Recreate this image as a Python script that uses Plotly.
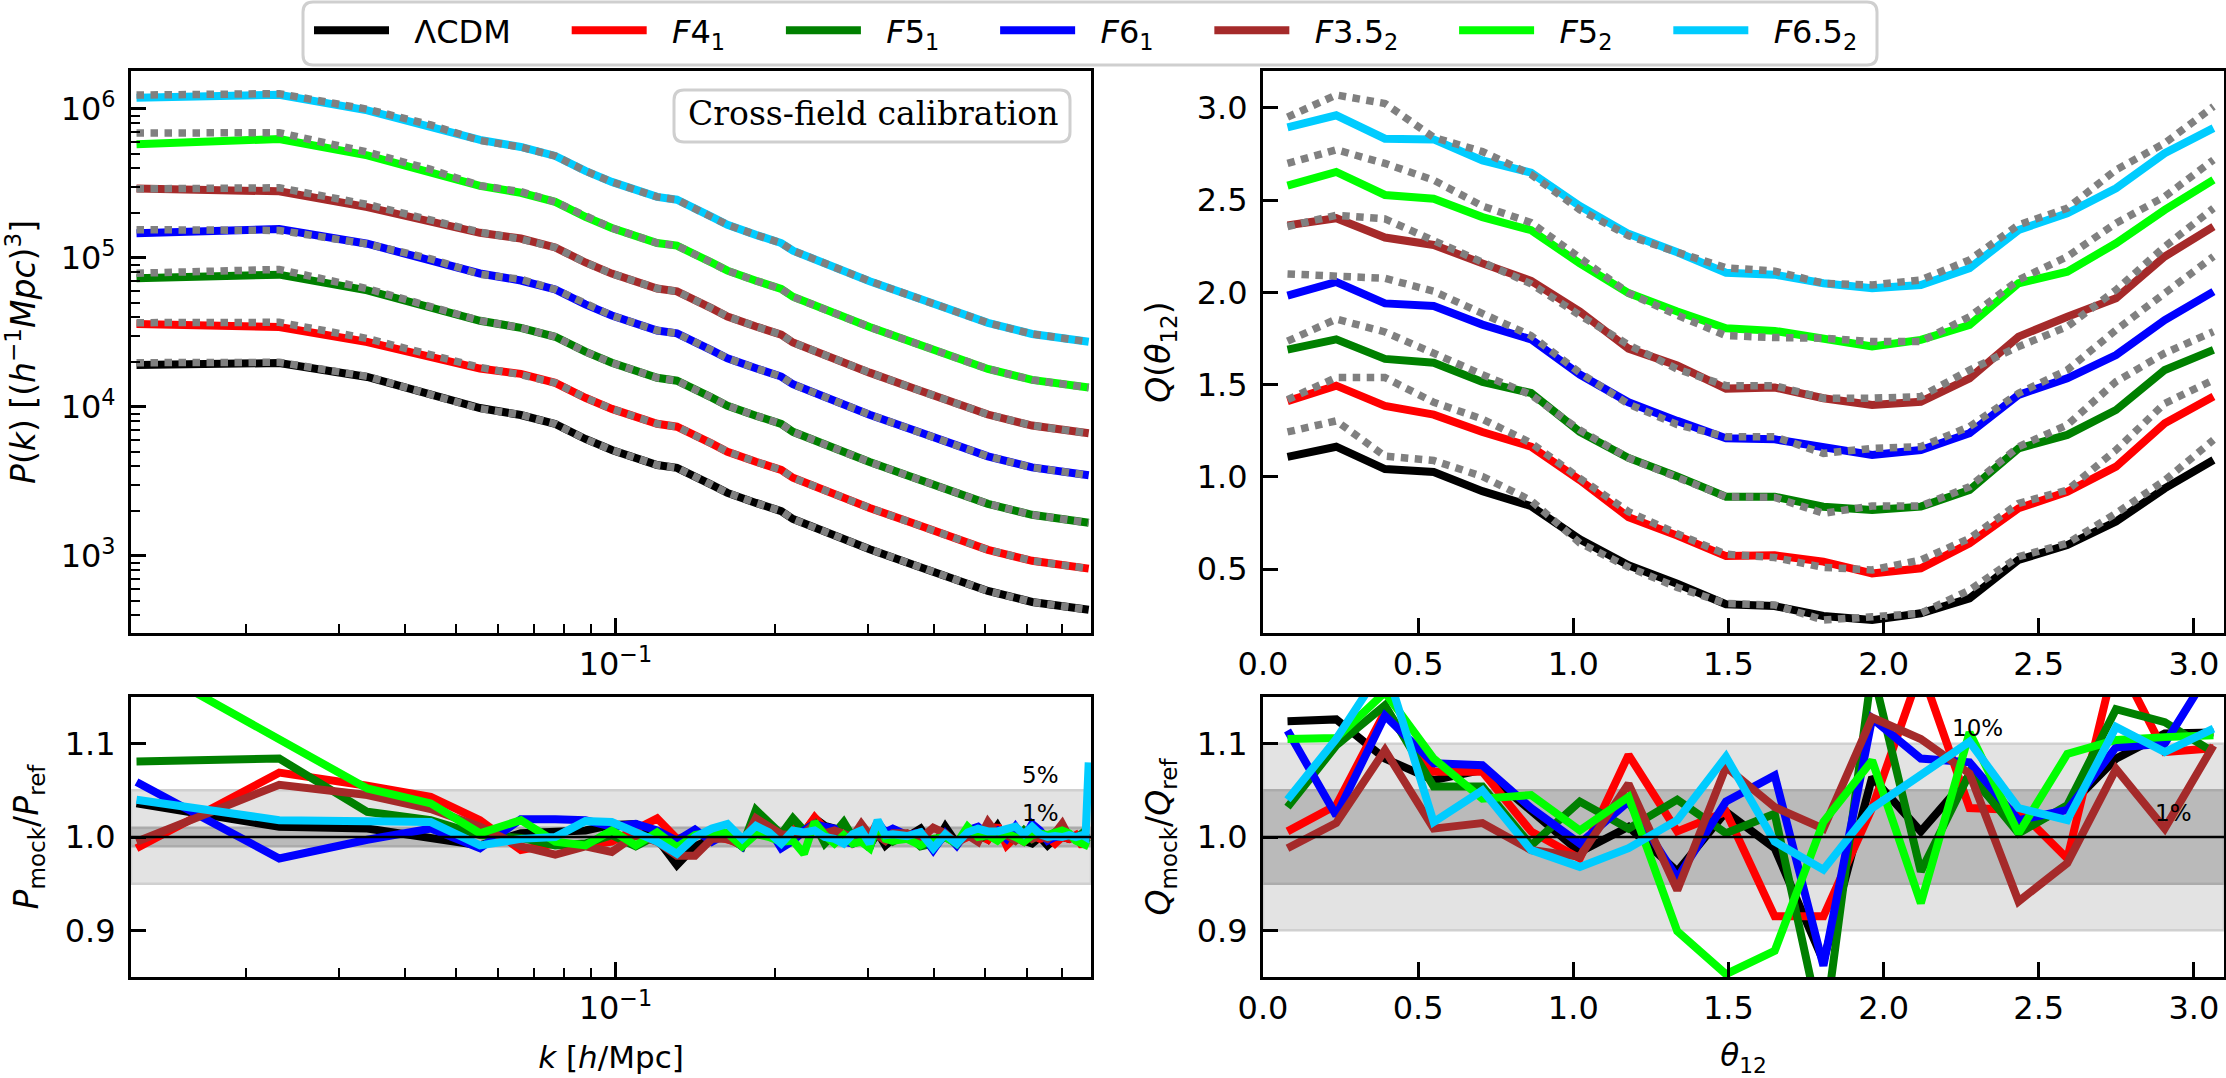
# Power spectrum and bispectrum panels with mock/ref ratios
import plotly.graph_objects as go
from plotly.subplots import make_subplots

W, H = 2226, 1078
FONT = "DejaVu Sans"

# no-break spaces give the legend the text offset and column widths of the original
PRE = "\u00a0" * 2
GAP = "\u00a0" * 5
names = [PRE + "ΛCDM" + GAP, PRE + "<i>F</i>4<sub>1</sub>" + GAP, PRE + "<i>F</i>5<sub>1</sub>" + GAP,
         PRE + "<i>F</i>6<sub>1</sub>" + GAP, PRE + "<i>F</i>3.5<sub>2</sub>" + GAP,
         PRE + "<i>F</i>5<sub>2</sub>" + GAP, PRE + "<i>F</i>6.5<sub>2</sub>"]
colors = ["#000000", "#ff0000", "#008000", "#0000ff", "#a52a2a", "#00ff00", "#00ccff"]

# P(k), top left
k_p = [0.0124, 0.0231, 0.0339, 0.0447, 0.0554, 0.0662, 0.0769, 0.0877, 0.0984, 0.1199, 0.1307, 0.1522,
       0.1629, 0.1844, 0.2059, 0.2167, 0.2489, 0.3027, 0.3672, 0.4317, 0.5069, 0.6144, 0.7004, 0.7864]
p_lcdm = [19140, 19720, 15890, 12220, 9840, 8830, 7690, 6100, 5140, 4080, 3900, 3000,
          2650, 2270, 2000, 1770, 1450, 1110, 871, 711, 582, 491, 461, 435]
p_f41 = [36080, 34410, 27300, 21750, 18110, 16690, 14530, 11530, 9710, 7710, 7370, 5670,
         5010, 4290, 3780, 3350, 2740, 2100, 1650, 1340, 1100, 928, 871, 822]
p_f51 = [73100, 77300, 60700, 47000, 37900, 34000, 29600, 23500, 19800, 15700, 15000, 11550,
         10200, 8740, 7700, 6810, 5580, 4270, 3350, 2740, 2240, 1890, 1770, 1670]
p_f61 = [146400, 156400, 124700, 97800, 78700, 70600, 61500, 48800, 41100, 32600, 31200, 24000,
         21200, 18200, 16000, 14200, 11600, 8880, 6970, 5690, 4660, 3930, 3690, 3480]
p_f352 = [292800, 280000, 219300, 176000, 147600, 135100, 117700, 93300, 78600, 62400, 59700, 45900,
          40500, 34700, 30600, 27100, 22200, 17000, 13300, 10900, 8900, 7510, 7050, 6660]
p_f52 = [580000, 629000, 489000, 379000, 305000, 274000, 238000, 189000, 159000, 126000, 121000, 93000,
         82200, 70400, 62000, 54900, 45000, 34400, 27000, 22000, 18000, 15200, 14300, 13500]
p_f652 = [1192000, 1246000, 980000, 770000, 620000, 556000, 484000, 384000, 324000, 257000, 246000, 189000,
          167000, 143000, 126000, 112000, 91400, 69900, 54900, 44800, 36700, 30900, 29000, 27400]

# dotted reference curves only differ from the lines at low k
pref_lcdm = [19830, 19940, 16040, 12210, 9750, 8860] + p_lcdm[6:]
pref_f41 = [36800, 37000, 28800, 22690, 18440, 16460] + p_f41[6:]
pref_f51 = [79000, 83800, 62300, 47900, 38000, 34000] + p_f51[6:]
pref_f61 = [155000, 153000, 124300, 98700, 77800, 71900] + p_f61[6:]
pref_f352 = [291000, 296000, 229000, 181000, 149000, 133800] + p_f352[6:]
pref_f52 = [690000, 693000, 514000, 393000, 306000, 279000] + p_f52[6:]
pref_f652 = [1240000, 1268000, 997000, 782000, 615000, 555000] + p_f652[6:]

# P ratio, bottom left
k_r = [0.0124, 0.0231, 0.0339, 0.0447, 0.0554, 0.0662, 0.0769, 0.0877, 0.0984, 0.1092, 0.1199, 0.1307,
       0.1414, 0.1522, 0.1629, 0.1737, 0.1844, 0.1952, 0.2059, 0.2167, 0.2274, 0.2382, 0.2489, 0.2597,
       0.2704, 0.2812, 0.2919, 0.3027, 0.3134, 0.3242, 0.3349, 0.3564, 0.3779, 0.3994, 0.4209, 0.4424,
       0.4639, 0.4854, 0.5069, 0.5284, 0.5499, 0.5714, 0.5929, 0.6144, 0.6359, 0.6574, 0.6789, 0.7004,
       0.7219, 0.7434, 0.7649, 0.7757, 0.7864]
pr_lcdm = [1.036, 1.011, 1.009, 0.999, 0.991, 1.004, 1.006, 1.007, 1.013,
           1.014, 0.998, 0.970, 0.990, 0.998, 1.002, 0.990, 1.014, 1.007, 0.993, 1.000, 1.005, 1.020, 1.012,
           1.009, 0.998, 0.993, 0.996, 0.991, 1.005, 0.991, 0.998,
           1.000, 1.009, 0.989, 1.011, 0.993, 1.004, 1.007, 0.998, 1.012, 0.995, 1.002, 0.996, 0.993, 1.000,
           0.991, 0.998, 1.000, 0.998, 1.000, 0.996, 0.998, 0.998]
pr_f41 = [0.988, 1.069, 1.055, 1.043, 1.018, 0.986, 0.993, 0.991, 0.995,
          1.007, 1.020, 0.998, 1.003, 1.002, 0.998, 0.993, 1.014, 1.010, 1.002, 1.009, 1.005, 1.021, 1.009,
          1.007, 1.003, 0.993, 0.998, 1.000, 1.016, 0.998, 1.002,
          1.002, 1.005, 0.995, 1.002, 0.995, 1.000, 1.002, 0.997, 1.012, 0.991, 1.000, 0.995, 1.002, 0.998,
          1.000, 0.993, 1.000, 0.998, 1.002, 0.990, 0.997, 0.995]
pr_f51 = [1.081, 1.084, 1.027, 1.018, 1.002, 0.999, 0.991, 0.993, 1.002,
          0.990, 1.002, 0.991, 1.002, 1.003, 1.000, 0.990, 1.029, 1.014, 1.003, 1.020, 1.007, 1.014, 0.993,
          1.004, 1.016, 1.000, 0.998, 0.998, 1.007, 1.000, 0.995,
          1.003, 0.990, 0.993, 1.000, 0.993, 1.009, 0.997, 1.003, 1.000, 1.000, 0.997, 1.007, 0.998, 1.003,
          1.000, 1.005, 1.004, 1.002, 0.998, 1.004, 0.995, 0.993]
pr_f61 = [1.059, 0.977, 0.997, 1.009, 0.988, 1.019, 1.019, 1.018, 1.011,
          1.014, 1.007, 0.996, 1.008, 0.995, 1.004, 0.990, 1.014, 1.009, 0.988, 0.996, 1.007, 1.014, 1.011,
          1.009, 0.995, 0.993, 0.998, 0.988, 1.016, 1.005, 1.009,
          1.002, 1.005, 0.986, 1.004, 0.991, 1.007, 1.011, 1.002, 1.007, 0.998, 1.011, 0.998, 1.014, 1.007,
          0.996, 1.000, 1.002, 1.002, 1.000, 0.998, 0.999, 0.999]
pr_f352 = [0.995, 1.056, 1.045, 1.030, 1.011, 0.990, 0.981, 0.990, 0.984,
           1.002, 0.995, 0.980, 0.980, 0.998, 0.998, 0.991, 1.020, 1.012, 1.003, 1.002, 1.004, 1.014, 1.004,
           1.007, 1.004, 1.000, 1.014, 1.002, 1.002, 0.996, 1.004,
           1.004, 0.998, 1.010, 1.004, 0.993, 1.002, 0.995, 1.016, 1.002, 1.002, 0.996, 1.004, 0.998, 1.002,
           0.998, 1.004, 1.014, 1.000, 0.998, 1.002, 1.000, 0.999]
pr_f52 = [1.190, 1.104, 1.052, 1.036, 1.004, 1.018, 0.995, 0.991, 1.007,
          0.991, 1.005, 0.989, 1.002, 1.005, 1.004, 0.990, 1.003, 1.000, 0.995, 0.996, 0.982, 1.016, 1.002,
          0.993, 1.002, 0.993, 0.995, 0.988, 1.014, 0.998, 0.996,
          0.998, 0.991, 0.998, 1.000, 0.993, 1.011, 1.000, 1.002, 0.996, 1.004, 1.000, 0.995, 1.002, 1.004,
          1.002, 1.005, 1.007, 1.004, 0.996, 0.993, 0.991, 0.990]
pr_f652 = [1.040, 1.018, 1.017, 1.016, 0.991, 0.998, 1.000, 1.017, 1.016,
           1.004, 0.995, 0.982, 1.000, 1.009, 1.014, 0.998, 1.012, 1.005, 0.993, 1.007, 1.005, 1.007, 1.000,
           0.998, 0.993, 1.003, 1.007, 0.993, 1.018, 1.002, 1.003,
           1.001, 1.005, 0.988, 1.003, 0.993, 1.005, 1.009, 1.006, 1.006, 1.009, 1.011, 1.003, 1.011, 1.003,
           1.000, 1.001, 1.000, 1.002, 1.000, 1.002, 1.000, 1.080]

# Q(theta), top right
theta = [0.079, 0.236, 0.393, 0.550, 0.707, 0.864, 1.021, 1.178, 1.335, 1.492,
         1.649, 1.806, 1.963, 2.120, 2.277, 2.435, 2.592, 2.749, 2.906, 3.063]
q_lcdm = [1.108, 1.163, 1.042, 1.026, 0.922, 0.841, 0.661, 0.520, 0.420, 0.309,
          0.299, 0.245, 0.223, 0.260, 0.341, 0.549, 0.630, 0.757, 0.937, 1.091]
q_f41 = [1.410, 1.494, 1.384, 1.337, 1.243, 1.163, 0.982, 0.781, 0.681, 0.570,
         0.574, 0.540, 0.476, 0.504, 0.639, 0.829, 0.919, 1.055, 1.290, 1.435]
q_f51 = [1.689, 1.745, 1.639, 1.618, 1.514, 1.454, 1.243, 1.102, 1.002, 0.892,
         0.892, 0.838, 0.820, 0.838, 0.928, 1.154, 1.227, 1.362, 1.579, 1.688]
q_f61 = [1.982, 2.056, 1.940, 1.926, 1.825, 1.745, 1.554, 1.404, 1.303, 1.209,
         1.203, 1.163, 1.118, 1.145, 1.236, 1.444, 1.534, 1.660, 1.850, 2.004]
q_f352 = [2.363, 2.402, 2.297, 2.257, 2.157, 2.062, 1.896, 1.695, 1.604, 1.478,
          1.484, 1.426, 1.389, 1.407, 1.534, 1.760, 1.868, 1.968, 2.194, 2.356]
q_f52 = [2.578, 2.653, 2.528, 2.508, 2.408, 2.337, 2.157, 1.996, 1.896, 1.805,
         1.791, 1.751, 1.706, 1.742, 1.823, 2.049, 2.112, 2.266, 2.447, 2.610]
q_f652 = [2.894, 2.960, 2.833, 2.829, 2.715, 2.649, 2.468, 2.317, 2.217, 2.106,
          2.096, 2.049, 2.022, 2.040, 2.131, 2.338, 2.429, 2.564, 2.754, 2.890]

qref_lcdm = [1.243, 1.303, 1.112, 1.088, 1.002, 0.871, 0.641, 0.510, 0.400, 0.313,
             0.305, 0.223, 0.241, 0.260, 0.386, 0.567, 0.639, 0.802, 0.980, 1.200]
qref_f41 = [1.418, 1.538, 1.538, 1.404, 1.313, 1.183, 0.992, 0.811, 0.691, 0.580,
            0.562, 0.509, 0.495, 0.549, 0.666, 0.856, 0.928, 1.145, 1.398, 1.525]
qref_f51 = [1.735, 1.855, 1.785, 1.665, 1.554, 1.444, 1.253, 1.102, 0.992, 0.892,
            0.888, 0.802, 0.842, 0.842, 0.946, 1.163, 1.281, 1.516, 1.670, 1.787]
qref_f61 = [2.100, 2.086, 2.076, 2.006, 1.886, 1.765, 1.564, 1.394, 1.283, 1.217,
            1.217, 1.127, 1.154, 1.163, 1.272, 1.453, 1.579, 1.796, 1.995, 2.194]
qref_f352 = [2.357, 2.418, 2.398, 2.277, 2.157, 2.046, 1.876, 1.715, 1.584, 1.494,
             1.494, 1.426, 1.426, 1.435, 1.579, 1.706, 1.814, 2.013, 2.248, 2.456]
qref_f52 = [2.699, 2.773, 2.699, 2.608, 2.468, 2.378, 2.187, 1.996, 1.876, 1.765,
            1.755, 1.751, 1.733, 1.733, 1.868, 2.067, 2.194, 2.375, 2.519, 2.718]
qref_f652 = [2.950, 3.070, 3.024, 2.840, 2.763, 2.639, 2.448, 2.307, 2.217, 2.133,
             2.115, 2.049, 2.040, 2.067, 2.176, 2.366, 2.456, 2.664, 2.809, 3.007]

# Q ratio, bottom right
qr_lcdm = [1.124, 1.126, 1.084, 1.061, 1.072, 1.027, 0.984, 1.011, 0.963, 1.027,
           0.988, 0.867, 1.064, 1.006, 1.066, 1.009, 1.031, 1.084, 1.111, 1.112]
qr_f41 = [1.006, 1.034, 1.134, 1.070, 1.070, 1.006, 0.977, 1.088, 1.006, 1.027,
          0.915, 0.915, 1.031, 1.180, 1.031, 1.029, 0.977, 1.193, 1.091, 1.095]
qr_f51 = [1.032, 1.098, 1.141, 1.054, 1.054, 0.991, 1.038, 1.009, 1.040, 1.004,
          1.025, 0.785, 1.180, 0.963, 1.068, 1.004, 1.034, 1.137, 1.123, 1.091]
qr_f61 = [1.114, 1.023, 1.130, 1.079, 1.077, 1.031, 0.993, 1.038, 0.956, 1.038,
          1.066, 0.862, 1.127, 1.084, 1.080, 1.018, 1.029, 1.096, 1.100, 1.184]
qr_f352 = [0.988, 1.015, 1.093, 1.009, 1.015, 0.986, 0.979, 1.057, 0.943, 1.075,
           1.032, 1.009, 1.128, 1.105, 1.068, 0.931, 0.972, 1.073, 1.009, 1.098]
qr_f52 = [1.105, 1.106, 1.155, 1.084, 1.041, 1.045, 1.007, 1.043, 0.899, 0.853,
          0.878, 1.016, 1.082, 0.929, 1.112, 1.004, 1.089, 1.104, 1.107, 1.109]
qr_f652 = [1.040, 1.105, 1.185, 1.016, 1.050, 0.986, 0.968, 0.988, 1.018, 1.086,
           0.995, 0.965, 1.031, 1.066, 1.102, 1.031, 1.018, 1.118, 1.091, 1.116]

p_lines = [p_lcdm, p_f41, p_f51, p_f61, p_f352, p_f52, p_f652]
p_refs = [pref_lcdm, pref_f41, pref_f51, pref_f61, pref_f352, pref_f52, pref_f652]
p_ratios = [pr_lcdm, pr_f41, pr_f51, pr_f61, pr_f352, pr_f52, pr_f652]
q_lines = [q_lcdm, q_f41, q_f51, q_f61, q_f352, q_f52, q_f652]
q_refs = [qref_lcdm, qref_f41, qref_f51, qref_f61, qref_f352, qref_f52, qref_f652]
q_ratios = [qr_lcdm, qr_f41, qr_f51, qr_f61, qr_f352, qr_f52, qr_f652]

LW = 8
GRAY = "#808080"


def px_x(v):
    return v / W


def px_y(v):
    return 1 - v / H


def round_box(x0, y0, x1, y1, r=10):
    # rounded rectangle in paper coordinates, arguments in pixels
    rx, ry = r / W, r / H
    a, b, c, d = px_x(x0), px_x(x1), px_y(y0), px_y(y1)
    return (f"M{a + rx},{c} L{b - rx},{c} Q{b},{c} {b},{c - ry} L{b},{d + ry} Q{b},{d} {b - rx},{d} "
            f"L{a + rx},{d} Q{a},{d} {a},{d + ry} L{a},{c - ry} Q{a},{c} {a + rx},{c} Z")


fig = make_subplots(rows=2, cols=2)

for i in range(7):
    fig.add_trace(go.Scatter(x=k_p, y=p_lines[i], mode="lines", name=names[i],
                             line=dict(color=colors[i], width=LW)), row=1, col=1)
    fig.add_trace(go.Scatter(x=theta, y=q_lines[i], mode="lines", showlegend=False,
                             line=dict(color=colors[i], width=LW)), row=1, col=2)
    fig.add_trace(go.Scatter(x=k_r, y=p_ratios[i], mode="lines", showlegend=False,
                             line=dict(color=colors[i], width=LW)), row=2, col=1)
    fig.add_trace(go.Scatter(x=theta, y=q_ratios[i], mode="lines", showlegend=False,
                             line=dict(color=colors[i], width=LW)), row=2, col=2)
for i in range(7):
    fig.add_trace(go.Scatter(x=k_p, y=p_refs[i], mode="lines", showlegend=False,
                             line=dict(color=GRAY, width=7.5, dash="7.5px,6.5px")), row=1, col=1)
    fig.add_trace(go.Scatter(x=theta, y=q_refs[i], mode="lines", showlegend=False,
                             line=dict(color=GRAY, width=7.5, dash="7.5px,6.5px")), row=1, col=2)

axis_style = dict(showgrid=False, zeroline=False, showline=True, mirror=True, linecolor="black", linewidth=3,
                  ticks="inside", ticklen=15, tickwidth=2.5, tickcolor="black",
                  automargin=False, tickfont=dict(family=FONT, size=32, color="black"))
x_title_font = dict(family=FONT, size=31, color="black")
y_title_font = dict(family=FONT, size=33, color="black")

k_ticks = [0.1]
k_minor = [0.02, 0.03, 0.04, 0.05, 0.06, 0.07, 0.08, 0.09, 0.2, 0.3, 0.4, 0.5, 0.6, 0.7]
p_ticks = [1e3, 1e4, 1e5, 1e6]
p_labels = ["10<sup>3</sup>", "10<sup>4</sup>", "10<sup>5</sup>", "10<sup>6</sup>"]
p_minor = [m * d for d in [1e2, 1e3, 1e4, 1e5, 1e6] for m in [2, 3, 4, 5, 6, 7, 8, 9]]
minor_x = dict(ticks="inside", ticklen=9, tickwidth=2, tickcolor="black", tickvals=k_minor)
minor_y = dict(ticks="inside", ticklen=9, tickwidth=2, tickcolor="black", tickvals=p_minor)
theta_ticks = [0.0, 0.5, 1.0, 1.5, 2.0, 2.5, 3.0]

left_dom = [px_x(131), px_x(1091)]
right_dom = [px_x(1263), px_x(2224)]
top_dom = [px_y(633), px_y(71)]
bot_dom = [px_y(977), px_y(697)]

fig.update_xaxes(axis_style, ticklabelstandoff=1)
fig.update_yaxes(axis_style, ticklabelstandoff=6)

fig.update_xaxes(type="log", range=[-1.917, -0.1], domain=left_dom, tickmode="array", tickvals=k_ticks,
                 ticktext=["10<sup>−1</sup>"], minor=minor_x, row=1, col=1)
fig.update_xaxes(type="log", range=[-1.917, -0.1], domain=left_dom, tickmode="array", tickvals=k_ticks,
                 ticktext=["10<sup>−1</sup>"], minor=minor_x, title=dict(
                     text="<i>k</i> [<i>h</i>/Mpc]", font=x_title_font, standoff=20), row=2, col=1)
fig.update_xaxes(range=[0, 3.097], domain=right_dom, tickvals=theta_ticks, tickformat=".1f", row=1, col=2)
fig.update_xaxes(range=[0, 3.097], domain=right_dom, tickvals=theta_ticks, tickformat=".1f", title=dict(
    text="<i>θ</i><sub>12</sub>", font=x_title_font, standoff=20), row=2, col=2)

fig.update_yaxes(type="log", range=[2.483, 6.255], domain=top_dom, tickmode="array", tickvals=p_ticks,
                 ticktext=p_labels, minor=minor_y, title=dict(
                     text="<i>P</i>(<i>k</i>) [(<i>h</i><sup>−1</sup><i>Mpc</i>)<sup>3</sup>]",
                     font=y_title_font, standoff=22), row=1, col=1)
fig.update_yaxes(range=[0.153, 3.2], domain=top_dom, tickvals=[0.5, 1.0, 1.5, 2.0, 2.5, 3.0], tickformat=".1f",
                 title=dict(text="<i>Q</i>(<i>θ</i><sub>12</sub>)", font=y_title_font, standoff=17), row=1, col=2)
fig.update_yaxes(range=[0.85, 1.15], domain=bot_dom, tickvals=[0.9, 1.0, 1.1], tickformat=".1f", title=dict(
    text="<i>P</i><sub>mock</sub>/<i>P</i><sub>ref</sub>", font=y_title_font, standoff=17), row=2, col=1)
fig.update_yaxes(range=[0.85, 1.15], domain=bot_dom, tickvals=[0.9, 1.0, 1.1], tickformat=".1f", title=dict(
    text="<i>Q</i><sub>mock</sub>/<i>Q</i><sub>ref</sub>", font=y_title_font, standoff=17), row=2, col=2)


def band(row, col, low, high, fill, edge):
    fig.add_shape(type="rect", xref="x domain", x0=0, x1=1, y0=low, y1=high, fillcolor=fill,
                  line=dict(color=edge, width=2.5), layer="below", row=row, col=col)


band(2, 1, 0.95, 1.05, "#e3e3e3", "#d0d0d0")
band(2, 1, 0.99, 1.01, "#bababa", "#ababab")
band(2, 2, 0.90, 1.10, "#e3e3e3", "#d0d0d0")
band(2, 2, 0.95, 1.05, "#bababa", "#ababab")
for col in [1, 2]:
    fig.add_shape(type="line", xref="x domain", x0=0, x1=1, y0=1, y1=1, line=dict(color="black", width=2.5),
                  layer="above", row=2, col=col)

# legend and label frames
fig.add_shape(type="path", xref="paper", yref="paper", path=round_box(303, 2, 1877, 65),
              line=dict(color="#cfcfcf", width=3), fillcolor="white", layer="below")
fig.add_shape(type="path", xref="paper", yref="paper", path=round_box(674, 90, 1070, 142),
              line=dict(color="#cfcfcf", width=3), fillcolor="rgba(255,255,255,0.8)", layer="below")
fig.add_annotation(x=px_x(873), y=px_y(114), xref="paper", yref="paper", xanchor="center", yanchor="middle",
                   text="Cross-field calibration", showarrow=False,
                   font=dict(family="DejaVu Serif", size=33, color="black"))

pct_font = dict(family=FONT, size=23, color="black")
fig.add_annotation(x=-0.195, y=1.066, text="5%", showarrow=False, font=pct_font, row=2, col=1)
fig.add_annotation(x=-0.195, y=1.026, text="1%", showarrow=False, font=pct_font, row=2, col=1)
fig.add_annotation(x=2.304, y=1.117, text="10%", showarrow=False, font=pct_font, row=2, col=2)
fig.add_annotation(x=2.933, y=1.026, text="1%", showarrow=False, font=pct_font, row=2, col=2)

fig.update_layout(
    width=W, height=H, autosize=False,
    margin=dict(l=0, r=0, t=0, b=0),
    paper_bgcolor="white", plot_bgcolor="white",
    font=dict(family=FONT, color="black"),
    legend=dict(orientation="h", x=px_x(309), xanchor="left",
                y=px_y(3), yanchor="top", itemwidth=75, bgcolor="rgba(0,0,0,0)", borderwidth=0,
                font=dict(family=FONT, size=32, color="black")),
)

# the page's default body margin would push the figure 8 px off the window
fig.write_html("out.html", config={"displayModeBar": False}, post_script="document.body.style.margin = '0';")
